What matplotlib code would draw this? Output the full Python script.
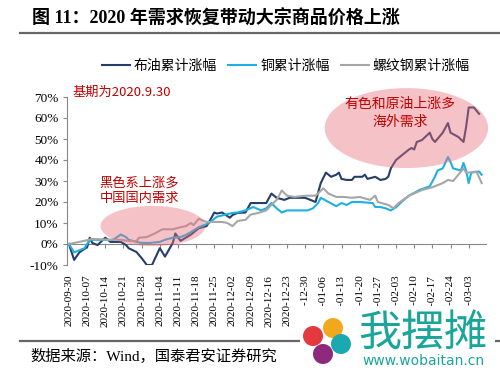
import numpy as np
import pandas as pd
import matplotlib
matplotlib.use("Agg")
import matplotlib.pyplot as plt
from matplotlib.patches import Ellipse, Rectangle, Circle
from matplotlib.ticker import FuncFormatter

CJK = ['Noto Sans CJK SC', 'DejaVu Sans']
SERIF = ['Liberation Serif', 'Noto Sans CJK SC']

# 布油累计涨幅 (%)
oil_dates = ['2020-09-30', '2020-10-02', '2020-10-04', '2020-10-07', '2020-10-08', '2020-10-09',
             '2020-10-11', '2020-10-14', '2020-10-16', '2020-10-20', '2020-10-22', '2020-10-23',
             '2020-10-26', '2020-10-28', '2020-10-30', '2020-11-01', '2020-11-04', '2020-11-06',
             '2020-11-09', '2020-11-10', '2020-11-12', '2020-11-14', '2020-11-16', '2020-11-19',
             '2020-11-22', '2020-11-23', '2020-11-25', '2020-11-26', '2020-11-28', '2020-12-01',
             '2020-12-02', '2020-12-04', '2020-12-07', '2020-12-09', '2020-12-11', '2020-12-15',
             '2020-12-17', '2020-12-19', '2020-12-22', '2020-12-24', '2020-12-27', '2020-12-30',
             '2021-01-01', '2021-01-03', '2021-01-05', '2021-01-07', '2021-01-09', '2021-01-11',
             '2021-01-12', '2021-01-13', '2021-01-15', '2021-01-17', '2021-01-18', '2021-01-21',
             '2021-01-22', '2021-01-23', '2021-01-26', '2021-01-28', '2021-01-30', '2021-01-31',
             '2021-02-01', '2021-02-03', '2021-02-05', '2021-02-08', '2021-02-09', '2021-02-10',
             '2021-02-11', '2021-02-13', '2021-02-16', '2021-02-17', '2021-02-18', '2021-02-21',
             '2021-02-23', '2021-02-24', '2021-02-27', '2021-03-01', '2021-03-02', '2021-03-03',
             '2021-03-05', '2021-03-07']
oil_vals = [0, -7.6, -4, -1.5, 3, 0.5,
            -0.5, 3, 1, 1, -0.5, -2,
            -3.8, -6.7, -10, -10, -2, -6,
            0.5, 5, 1.5, 3, 4.5, 7.5,
            8.5, 10.5, 15, 14.5, 15, 12.5,
            13.8, 14.8, 15, 19.5, 19.5, 19.5,
            24, 22, 21, 22, 22, 22,
            21, 20, 29, 34, 32, 33,
            34, 31, 30.5, 30.5, 32, 32,
            33, 31, 32, 30.5, 31, 32,
            36, 40, 42, 45, 45.7, 45,
            48.6, 49.5, 53, 50, 48.6, 53,
            57.6, 53, 51, 48.6, 55.7, 65,
            65, 62]

# 铜累计涨幅 (%)
cu_dates = ['2020-09-30', '2020-10-02', '2020-10-04', '2020-10-06', '2020-10-08', '2020-10-11',
            '2020-10-14', '2020-10-17', '2020-10-20', '2020-10-22', '2020-10-23', '2020-10-26',
            '2020-10-28', '2020-10-31', '2020-11-04', '2020-11-06', '2020-11-09', '2020-11-12',
            '2020-11-14', '2020-11-16', '2020-11-19', '2020-11-21', '2020-11-23', '2020-11-26',
            '2020-12-02', '2020-12-04', '2020-12-07', '2020-12-10', '2020-12-13', '2020-12-15',
            '2020-12-17', '2020-12-19', '2020-12-21', '2020-12-23', '2020-12-27', '2020-12-31',
            '2021-01-02', '2021-01-04', '2021-01-05', '2021-01-08', '2021-01-11', '2021-01-13',
            '2021-01-15', '2021-01-17', '2021-01-20', '2021-01-25', '2021-01-26', '2021-01-28',
            '2021-01-30', '2021-02-01', '2021-02-03', '2021-02-06', '2021-02-08', '2021-02-12',
            '2021-02-16', '2021-02-18', '2021-02-19', '2021-02-21', '2021-02-23', '2021-02-24',
            '2021-02-25', '2021-02-28', '2021-03-01', '2021-03-02', '2021-03-03', '2021-03-04',
            '2021-03-07', '2021-03-08']
cu_vals = [0, -4, -3, -2, 2, 2,
           2, 2, 4.5, 3.3, 2, 1,
           0.5, 0.5, 1, 2, 3, 3.3,
           4.3, 5.7, 8, 9, 10, 13,
           14.8, 15, 16, 17.6, 16, 17,
           19.5, 17, 15, 16, 16, 16,
           17, 19.5, 22, 20, 18, 19.5,
           18.6, 20, 20, 19.5, 17.6, 17.6,
           17, 16, 17.5, 21, 23, 25.7,
           27.5, 32, 35, 36, 41.4, 39,
           36, 35, 38.6, 35, 29, 34,
           34.5, 33]

# 螺纹钢累计涨幅 (%)
rb_dates = ['2020-09-30', '2020-10-04', '2020-10-09', '2020-10-16', '2020-10-20', '2020-10-23',
            '2020-10-26', '2020-10-27', '2020-10-30', '2020-11-02', '2020-11-05', '2020-11-09',
            '2020-11-12', '2020-11-14', '2020-11-16', '2020-11-17', '2020-11-19', '2020-11-22',
            '2020-11-25', '2020-11-28', '2020-11-30', '2020-12-02', '2020-12-04', '2020-12-07',
            '2020-12-09', '2020-12-12', '2020-12-15', '2020-12-17', '2020-12-19', '2020-12-21',
            '2020-12-23', '2020-12-26', '2020-12-30', '2021-01-03', '2021-01-06', '2021-01-08',
            '2021-01-11', '2021-01-14', '2021-01-17', '2021-01-20', '2021-01-24', '2021-01-26',
            '2021-01-27', '2021-01-31', '2021-02-02', '2021-02-04', '2021-02-08', '2021-02-13',
            '2021-02-17', '2021-02-21', '2021-02-23', '2021-02-25', '2021-03-01', '2021-03-02',
            '2021-03-03', '2021-03-06', '2021-03-08']
rb_vals = [0, 1, 2.4, 2, 2, 1.4,
           1.4, 3, 3.3, 5, 7, 7,
           8, 8.5, 10, 9, 12, 10.5,
           10.5, 10.5, 10, 8.5, 11, 11.5,
           14, 14.8, 16, 18.6, 21, 25.5,
           23, 22.4, 23, 23, 26.5, 24,
           22.4, 22.4, 22, 22.4, 21, 23,
           20, 18.6, 17, 19.5, 23, 25.7,
           27, 29, 30.5, 30, 36, 34,
           34, 34.5, 29]

series_names = ['布油累计涨幅', '铜累计涨幅', '螺纹钢累计涨幅']
series_colors = ['#243d6b', '#1fb0e3', '#a6a6a6']

tick_dates = pd.date_range('2020-09-30', '2021-03-03', freq='7D')
y_ticks = list(range(-10, 80, 10))

fig = plt.figure(figsize=(5, 3.75), dpi=100)
fig.patch.set_facecolor('white')

ax = fig.add_axes([67 / 500, 1 - 265 / 375, (486 - 67) / 500, (265 - 97) / 375])

all_dates = [oil_dates, cu_dates, rb_dates]
all_vals = [oil_vals, cu_vals, rb_vals]
for d, v, name, c in zip(all_dates, all_vals, series_names, series_colors):
    ax.plot(pd.to_datetime(d), v, color=c, lw=1.5, label=name, zorder=3)

ax.set_ylim(-10, 70)
ax.set_yticks(y_ticks)
ax.yaxis.set_major_formatter(FuncFormatter(lambda v, p: '%d%%' % v))
ax.set_xlim(pd.Timestamp('2020-09-29 06:00'), pd.Timestamp('2021-03-09 16:00'))
ax.set_xticks(tick_dates)
ax.set_xticklabels([t.strftime('%Y-%m-%d') for t in tick_dates], rotation=90,
                   family=SERIF, fontsize=8)
for lab in ax.get_yticklabels():
    lab.set_family(SERIF)
    lab.set_fontsize(9.5)
ax.tick_params(axis='x', length=0, pad=7)
ax.tick_params(axis='y', length=3, color='#888888', pad=3)
for s in ['top', 'right', 'bottom']:
    ax.spines[s].set_visible(False)
ax.spines['left'].set_color('#888888')

# x axis line with ticks sits on the 0% level
sec = ax.secondary_xaxis(0.125)
sec.set_xticks(tick_dates)
sec.tick_params(axis='x', labelbottom=False, direction='out', length=3, color='#888888')
sec.spines['bottom'].set_color('#888888')

# highlight ellipses (semi transparent, above the lines)
ax.add_patch(Ellipse((0.205, 0.232), 0.25, 0.24, transform=ax.transAxes,
                     facecolor='#e8707a', edgecolor='none', alpha=0.42, zorder=4))
ax.add_patch(Ellipse((0.81, 0.815), 0.39, 0.476, transform=ax.transAxes,
                     facecolor='#e8707a', edgecolor='none', alpha=0.42, zorder=4, clip_on=False))

red = '#c00000'
ax.text(0.014, 1.03, '基期为2020.9.30', transform=ax.transAxes, color=red,
        fontsize=9.5, family=CJK, va='center', ha='left', zorder=5)
ax.text(0.172, 0.44, '黑色系上涨多\n中国国内需求', transform=ax.transAxes, color=red,
        fontsize=9.5, family=CJK, va='center', ha='center', linespacing=1.2, zorder=5)
ax.text(0.795, 0.905, '有色和原油上涨多\n海外需求', transform=ax.transAxes, color=red,
        fontsize=10, family=CJK, va='center', ha='center', linespacing=1.3, zorder=5)

leg = fig.legend(loc='center', bbox_to_anchor=(0.572, 0.824), ncol=3, frameon=False,
                 prop={'family': CJK, 'size': 10}, handlelength=2.0, handletextpad=0.3,
                 columnspacing=0.8)

# title, rules and source
fig.text(32 / 500, 1 - 19 / 375, '图 11：2020 年需求恢复带动大宗商品价格上涨',
         family=SERIF, fontweight='bold', fontsize=13, va='center', ha='left')
fig.add_artist(plt.Line2D([20 / 500, 1], [1 - 33 / 375] * 2, color='#666666', lw=1.6))
fig.add_artist(plt.Line2D([20 / 500, 1], [1 - 341 / 375] * 2, color='#666666', lw=1.6))
fig.text(30 / 500, 1 - 356 / 375, '数据来源：Wind，国泰君安证券研究',
         family=SERIF, fontsize=11, va='center', ha='left')

# watermark: white patch over the lower labels, simple logo and site text
fig.add_artist(Rectangle((300 / 500, 0), 195 / 500, (375 - 306) / 375, transform=fig.transFigure,
                         facecolor='white', edgecolor='none', zorder=10))
logo_cx, logo_cy = 327 / 500, 1 - 340 / 375
logo_cols = ['#f2a81d', '#1aa9b0', '#8e2a7d', '#e23a3f']
logo_offs = [(6, 12), (14, -4), (-4, -14), (-14, 4)]
for col, (dx, dy) in zip(logo_cols, logo_offs):
    fig.add_artist(Ellipse((logo_cx + dx / 500, logo_cy + dy / 375), 20 / 500, 20 / 375,
                           transform=fig.transFigure, facecolor=col, edgecolor='none', zorder=11))
fig.text(358 / 500, 1 - 334 / 375, '我摆摊', family=CJK, fontsize=31, color='#1aa59a',
         va='center', ha='left', zorder=12)
fig.text(423 / 500, 1 - 361 / 375, 'www.wobaitan.cn', family=['DejaVu Sans'], fontsize=10,
         color='#1aa59a', va='center', ha='center', zorder=12)

fig.savefig('out.png', dpi=100, facecolor='white')
